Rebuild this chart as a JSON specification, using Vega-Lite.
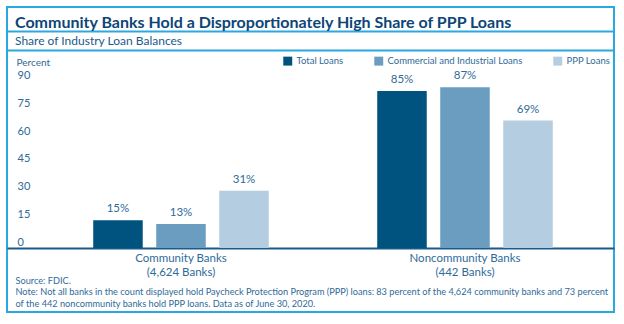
{
  "$schema": "https://vega.github.io/schema/vega-lite/v6.json",
  "width": 607,
  "height": 305,
  "padding": {"left": 7, "top": 7, "right": 10, "bottom": 12},
  "autosize": {"type": "pad"},
  "background": "white",
  "config": {"view": {"stroke": "#2aa9e0", "strokeWidth": 2}, "font": "Lato"},
  "title": {
    "text": "Community Banks Hold a Disproportionately High Share of PPP Loans",
    "subtitle": "Share of Industry Loan Balances",
    "anchor": "start",
    "frame": "group",
    "offset": -40,
    "dx": 8,
    "fontSize": 16,
    "font": "Lato",
    "fontWeight": "bold",
    "color": "#0c4577",
    "subtitleFont": "Lato",
    "subtitleFontSize": 12,
    "subtitleColor": "#1d5a8a",
    "subtitlePadding": 5
  },
  "data": {
    "values": [
      {"group": "Community Banks|(4,624 Banks)", "series": "Total Loans", "value": 15},
      {"group": "Community Banks|(4,624 Banks)", "series": "Commercial and Industrial Loans", "value": 13},
      {"group": "Community Banks|(4,624 Banks)", "series": "PPP Loans", "value": 31},
      {"group": "Noncommunity Banks|(442 Banks)", "series": "Total Loans", "value": 85},
      {"group": "Noncommunity Banks|(442 Banks)", "series": "Commercial and Industrial Loans", "value": 87},
      {"group": "Noncommunity Banks|(442 Banks)", "series": "PPP Loans", "value": 69}
    ]
  },
  "transform": [{"calculate": "datum.value + '%'", "as": "label"}],
  "encoding": {
    "x": {
      "field": "group",
      "type": "nominal",
      "sort": ["Community Banks|(4,624 Banks)", "Noncommunity Banks|(442 Banks)"],
      "scale": {"paddingInner": 0.2958, "paddingOuter": 0.2165, "align": 0.6016},
      "axis": {
        "orient": "bottom",
        "offset": -64,
        "domain": true,
        "domainColor": "#1b5b8c",
        "domainWidth": 2,
        "ticks": false,
        "labelAngle": 0,
        "labelExpr": "split(datum.label, '|')",
        "labelColor": "#2f6a99",
        "labelFontSize": 11.5,
        "labelLineHeight": 14,
        "labelPadding": 4,
        "labelBaseline": "top",
        "title": [
          "Source: FDIC.",
          "Note: Not all banks in the count displayed hold Paycheck Protection Program (PPP) loans: 83 percent of the 4,624  community banks and 73 percent",
          "of the 442 noncommunity banks hold PPP loans. Data as of June 30, 2020."
        ],
        "titleAnchor": "start",
        "titleAlign": "left",
        "titleX": 8,
        "titleY": 28,
        "titleBaseline": "top",
        "titleFontSize": 9.2,
        "titleFontWeight": "normal",
        "titleColor": "#2f6a99",
        "titleLineHeight": 11.5
      }
    },
    "xOffset": {
      "field": "series",
      "type": "nominal",
      "sort": ["Total Loans", "Commercial and Industrial Loans", "PPP Loans"],
      "scale": {"paddingInner": 0.214, "paddingOuter": 0.194}
    },
    "y": {
      "field": "value",
      "type": "quantitative",
      "scale": {"domain": [-34.65, 130.5], "nice": false, "zero": false},
      "axis": {
        "orient": "left",
        "offset": -10,
        "values": [0, 15, 30, 45, 60, 75, 90, 107.2, 117.5],
        "ticks": false,
        "tickSize": 0,
        "domain": false,
        "labelAlign": "left",
        "labelPadding": 0,
        "labelBaseline": "alphabetic",
        "labelOffset": -3,
        "labelExpr": "datum.value > 100 ? '' : datum.label",
        "labelColor": "#2f6a99",
        "labelFontSize": 11,
        "grid": true,
        "gridColor": {"condition": {"test": "datum.value > 100", "value": "#2aa9e0"}, "value": "transparent"},
        "gridWidth": 2,
        "title": "Percent",
        "titleAngle": 0,
        "titleAlign": "left",
        "titleBaseline": "middle",
        "titleX": -1,
        "titleY": 55,
        "titleFontWeight": "normal",
        "titleFontSize": 10,
        "titleColor": "#2f6a99"
      }
    }
  },
  "layer": [
    {
      "mark": {"type": "bar"},
      "encoding": {
        "y2": {"datum": 0},
        "color": {
          "field": "series",
          "type": "nominal",
          "sort": ["Total Loans", "Commercial and Industrial Loans", "PPP Loans"],
          "scale": {"domain": ["Total Loans", "Commercial and Industrial Loans", "PPP Loans"], "range": ["#00537f", "#6a9dc0", "#b4cde1"]},
          "legend": {
            "orient": "none",
            "legendX": 276,
            "legendY": 49,
            "direction": "horizontal",
            "title": null,
            "symbolType": "square",
            "symbolSize": 80,
            "symbolStrokeWidth": 0,
            "labelFontSize": 9.5,
            "labelColor": "#2f6a99",
            "columnPadding": 30,
            "labelOffset": 4
          }
        }
      }
    },
    {
      "mark": {"type": "text", "dy": -6, "baseline": "bottom", "fontSize": 11.5, "color": "#2f6a99"},
      "encoding": {"text": {"field": "label"}}
    }
  ]
}
